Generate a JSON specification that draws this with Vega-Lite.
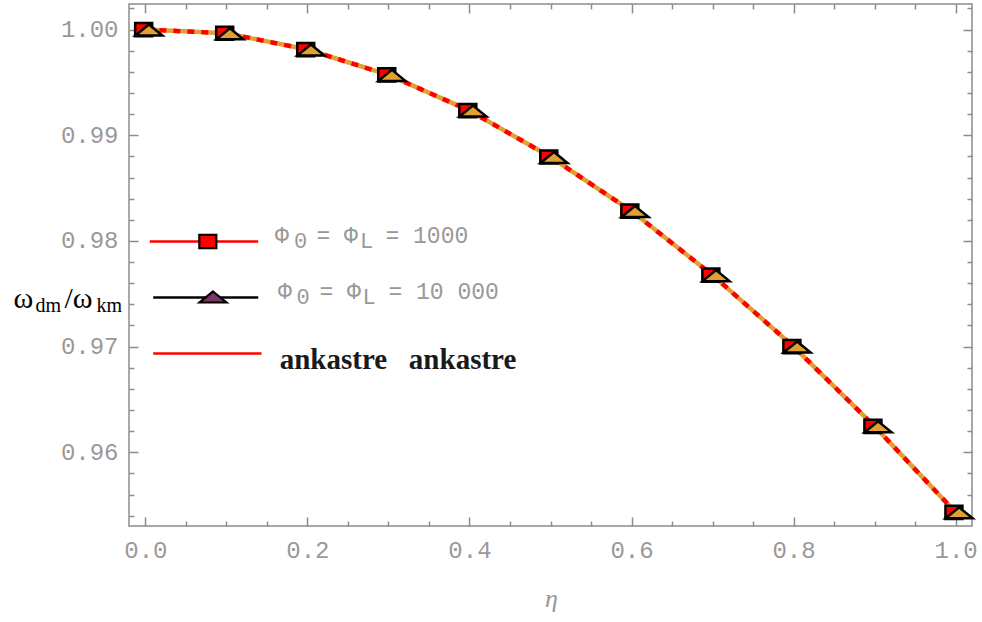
{
  "$schema": "https://vega.github.io/schema/vega-lite/v6.json",
  "width": 843,
  "height": 522,
  "autosize": {"type": "none"},
  "padding": {"left": 129, "top": 4, "right": 10, "bottom": 96},
  "background": "white",
  "config": {"view": {"stroke": "#8c8c8c", "strokeWidth": 1.5}},
  "data": {"values": [
    {"eta": 0.0, "w": 1.0, "series": "1000"},
    {"eta": 0.1, "w": 0.99965, "series": "1000"},
    {"eta": 0.2, "w": 0.99811, "series": "1000"},
    {"eta": 0.3, "w": 0.99571, "series": "1000"},
    {"eta": 0.4, "w": 0.99233, "series": "1000"},
    {"eta": 0.5, "w": 0.98794, "series": "1000"},
    {"eta": 0.6, "w": 0.98282, "series": "1000"},
    {"eta": 0.7, "w": 0.97676, "series": "1000"},
    {"eta": 0.8, "w": 0.97, "series": "1000"},
    {"eta": 0.9, "w": 0.96245, "series": "1000"},
    {"eta": 1.0, "w": 0.95431, "series": "1000"},
    {"eta": 0.0, "w": 1.0, "series": "10000"},
    {"eta": 0.1, "w": 0.99965, "series": "10000"},
    {"eta": 0.2, "w": 0.99811, "series": "10000"},
    {"eta": 0.3, "w": 0.99571, "series": "10000"},
    {"eta": 0.4, "w": 0.99233, "series": "10000"},
    {"eta": 0.5, "w": 0.98794, "series": "10000"},
    {"eta": 0.6, "w": 0.98282, "series": "10000"},
    {"eta": 0.7, "w": 0.97676, "series": "10000"},
    {"eta": 0.8, "w": 0.97, "series": "10000"},
    {"eta": 0.9, "w": 0.96245, "series": "10000"},
    {"eta": 1.0, "w": 0.95431, "series": "10000"},
    {"eta": 0.0, "w": 1.0, "series": "ankastre"},
    {"eta": 0.1, "w": 0.99965, "series": "ankastre"},
    {"eta": 0.2, "w": 0.99811, "series": "ankastre"},
    {"eta": 0.3, "w": 0.99571, "series": "ankastre"},
    {"eta": 0.4, "w": 0.99233, "series": "ankastre"},
    {"eta": 0.5, "w": 0.98794, "series": "ankastre"},
    {"eta": 0.6, "w": 0.98282, "series": "ankastre"},
    {"eta": 0.7, "w": 0.97676, "series": "ankastre"},
    {"eta": 0.8, "w": 0.97, "series": "ankastre"},
    {"eta": 0.9, "w": 0.96245, "series": "ankastre"},
    {"eta": 1.0, "w": 0.95431, "series": "ankastre"}
  ]},
  "resolve": {"axis": {"x": "independent", "y": "independent"}},
  "layer": [
    {
      "transform": [{"filter": "datum.series == '10000'"}],
      "mark": {"type": "line", "color": "#E2A033", "strokeWidth": 4.5},
      "encoding": {
        "x": {
          "field": "eta", "type": "quantitative",
          "scale": {"domain": [-0.0202, 1.0202], "nice": false, "zero": false},
          "axis": {
            "orient": "bottom",
            "values": [0, 0.05, 0.1, 0.15, 0.2, 0.25, 0.3, 0.35, 0.4, 0.45, 0.5, 0.55, 0.6, 0.65, 0.7, 0.75, 0.8, 0.85, 0.9, 0.95, 1.0],
            "domain": false, "grid": false, "ticks": true,
            "tickColor": "#8c8c8c", "tickWidth": 1.5,
            "tickSize": {"condition": {"test": "round(datum.value*100) % 20 == 0", "value": -9}, "value": -5},
            "labelExpr": "round(datum.value*100) % 20 == 0 ? format(datum.value, '.1f') : ''",
            "labelFont": "Liberation Mono", "labelFontSize": 24, "labelColor": "#999999",
            "labelPadding": 21, "labelFlush": false, "labelOverlap": false,
            "title": "η", "titleX": 422, "titleY": 80, "titleAlign": "center", "titleBaseline": "alphabetic",
            "titleFont": "Liberation Serif", "titleFontStyle": "italic", "titleFontWeight": "normal",
            "titleFontSize": 26, "titleColor": "#999999"
          }
        },
        "y": {
          "field": "w", "type": "quantitative",
          "scale": {"domain": [0.95302, 1.00242], "nice": false, "zero": false},
          "axis": {
            "orient": "left",
            "values": [0.954, 0.956, 0.958, 0.96, 0.962, 0.964, 0.966, 0.968, 0.97, 0.972, 0.974, 0.976, 0.978, 0.98, 0.982, 0.984, 0.986, 0.988, 0.99, 0.992, 0.994, 0.996, 0.998, 1.0, 1.002],
            "domain": false, "grid": false, "ticks": true,
            "tickColor": "#8c8c8c", "tickWidth": 1.5,
            "tickSize": {"condition": {"test": "round(datum.value*1000) % 10 == 0", "value": -9}, "value": -5},
            "labelExpr": "round(datum.value*1000) % 10 == 0 ? format(datum.value, '.2f') : ''",
            "labelFont": "Liberation Mono", "labelFontSize": 24, "labelColor": "#999999",
            "labelPadding": 20, "labelFlush": false, "labelOverlap": false,
            "title": "ω", "titleX": -116, "titleY": 303, "titleAngle": 0, "titleAlign": "left", "titleBaseline": "alphabetic",
            "titleFont": "Liberation Serif", "titleFontWeight": "normal", "titleFontSize": 30, "titleColor": "#000000"
          }
        }
      }
    },
    {
      "transform": [{"filter": "datum.series == 'ankastre'"}],
      "mark": {"type": "line", "strokeWidth": 4.5, "strokeDash": [7, 7]},
      "encoding": {
        "x": {
          "field": "eta", "type": "quantitative",
          "scale": {"domain": [-0.0202, 1.0202], "nice": false, "zero": false},
          "axis": {
            "orient": "top",
            "values": [0, 0.05, 0.1, 0.15, 0.2, 0.25, 0.3, 0.35, 0.4, 0.45, 0.5, 0.55, 0.6, 0.65, 0.7, 0.75, 0.8, 0.85, 0.9, 0.95, 1.0],
            "domain": false, "grid": false, "labels": false, "ticks": true,
            "tickColor": "#8c8c8c", "tickWidth": 1.5,
            "tickSize": {"condition": {"test": "round(datum.value*100) % 20 == 0", "value": -9}, "value": -5},
            "title": "/ω", "titleX": -65, "titleY": 303, "titleAngle": 0, "titleAlign": "left", "titleBaseline": "alphabetic",
            "titleFont": "Liberation Serif", "titleFontWeight": "normal", "titleFontSize": 30, "titleColor": "#000000"
          }
        },
        "y": {
          "field": "w", "type": "quantitative",
          "scale": {"domain": [0.95302, 1.00242], "nice": false, "zero": false},
          "axis": {
            "orient": "right",
            "values": [0.954, 0.956, 0.958, 0.96, 0.962, 0.964, 0.966, 0.968, 0.97, 0.972, 0.974, 0.976, 0.978, 0.98, 0.982, 0.984, 0.986, 0.988, 0.99, 0.992, 0.994, 0.996, 0.998, 1.0, 1.002],
            "domain": false, "grid": false, "labels": false, "ticks": true,
            "tickColor": "#8c8c8c", "tickWidth": 1.5,
            "tickSize": {"condition": {"test": "round(datum.value*1000) % 10 == 0", "value": -9}, "value": -5},
            "title": "dm", "titleX": -937, "titleY": 307, "titleAngle": 0, "titleAlign": "left", "titleBaseline": "alphabetic",
            "titleFont": "Liberation Serif", "titleFontWeight": "normal", "titleFontSize": 20, "titleColor": "#000000"
          }
        },
        "stroke": {
          "field": "series", "type": "nominal",
          "scale": {"domain": ["1000", "10000", "ankastre"], "range": ["#ff0000", "#000000", "#ff0000"]},
          "legend": {
            "title": null, "orient": "none", "legendX": 47, "legendY": 209,
            "padding": 0, "rowPadding": 0, "symbolSize": 2916, "labelOffset": 61, "labelLimit": 600,
            "labelExpr": "datum.value == 'ankastre' ? 'ankastre\u00a0\u00a0\u00a0ankastre' : '0\u00a0\u00a0\u00a0\u00a0L'",
            "encode": {
              "symbols": {"update": {
                "shape": {"signal": "datum.value == '1000' ? 'M-2.026,0H-0.2M0.45,0H1.989M0,-0.807M0,0.807' : datum.value == '10000' ? 'M-1.9,0H0.1M0.53,0H1.99M0,-0.807M0,0.807' : 'M-1.9,0H2.11M0,-0.807M0,0.807'"},
                "stroke": {"signal": "datum.value == '10000' ? '#000000' : '#ff0000'"},
                "strokeWidth": {"value": 2.6},
                "strokeDash": {"value": [1, 0]},
                "fill": {"value": "transparent"},
                "opacity": {"value": 1},
                "size": {"value": 2916}
              }},
              "labels": {"update": {
                "font": {"signal": "datum.value == 'ankastre' ? 'Liberation Serif' : 'Liberation Mono'"},
                "fontSize": {"signal": "datum.value == 'ankastre' ? 29 : 22"},
                "fontWeight": {"signal": "datum.value == 'ankastre' ? 'bold' : 'normal'"},
                "fill": {"signal": "datum.value == 'ankastre' ? '#1a1a1a' : '#999999'"},
                "baseline": {"value": "alphabetic"},
                "dy": {"signal": "datum.value == '1000' ? 6.5 : datum.value == '10000' ? 6 : 15.3"},
                "dx": {"signal": "datum.value == '10000' ? 2.5 : datum.value == 'ankastre' ? -14.3 : 0"}
              }}
            }
          }
        }
      }
    },
    {
      "transform": [{"filter": "datum.series != 'ankastre'"}],
      "mark": {"type": "point", "filled": true, "size": 400, "stroke": "#000000", "strokeWidth": 2.5, "opacity": 1},
      "encoding": {
        "x": {
          "field": "eta", "type": "quantitative",
          "scale": {"domain": [-0.0202, 1.0202], "nice": false, "zero": false},
          "axis": {
            "orient": "bottom", "domain": false, "grid": false, "labels": false, "ticks": false,
            "title": "km", "titleX": -33, "titleY": -215, "titleAngle": 0, "titleAlign": "left", "titleBaseline": "alphabetic",
            "titleFont": "Liberation Serif", "titleFontWeight": "normal", "titleFontSize": 20, "titleColor": "#000000"
          }
        },
        "y": {
          "field": "w", "type": "quantitative",
          "scale": {"domain": [0.95302, 1.00242], "nice": false, "zero": false},
          "axis": null
        },
        "shape": {
          "field": "series", "type": "nominal",
          "scale": {"range": ["M-1.02,-0.66H0.68V0.66H-1.02ZM0,-2.26M0,2.26", "M0.35,-0.5L1.7,0.6L-1.0,0.6ZM0,-2.26M0,2.26"]},
          "legend": {
            "title": null, "orient": "none", "legendX": 47, "legendY": 226,
            "padding": 0, "rowPadding": 0, "symbolSize": 400, "symbolOffset": 22, "labelOffset": 54, "labelLimit": 600,
            "labelExpr": "datum.value == '1000' ? 'Φ\u00a0\u00a0=\u00a0Φ\u00a0\u00a0=\u00a01000' : 'Φ\u00a0\u00a0=\u00a0Φ\u00a0\u00a0=\u00a010\u00a0000'",
            "encoding": {
              "symbols": {
                "fill": {"condition": {"test": "datum.value == '1000'", "value": "#ff0000"}, "value": "#7b3468"},
                "stroke": {"value": "#000000"},
                "strokeWidth": {"value": 2.2},
                "opacity": {"value": 1},
                "fillOpacity": {"value": 1},
                "size": {"value": 400}
              },
              "labels": {
                "font": {"value": "Liberation Mono"},
                "fontSize": {"value": 23},
                "fill": {"value": "#999999"},
                "baseline": {"value": "alphabetic"},
                "dy": {"condition": {"test": "datum.value == '1000'", "value": 1.7}, "value": 2.7},
                "dx": {"condition": {"test": "datum.value == '10000'", "value": 3}, "value": 0}
              }
            }
          }
        },
        "fill": {
          "field": "series", "type": "nominal",
          "scale": {"domain": ["1000", "10000"], "range": ["#ff0000", "#E2A033"]},
          "legend": null
        }
      }
    }
  ]
}
